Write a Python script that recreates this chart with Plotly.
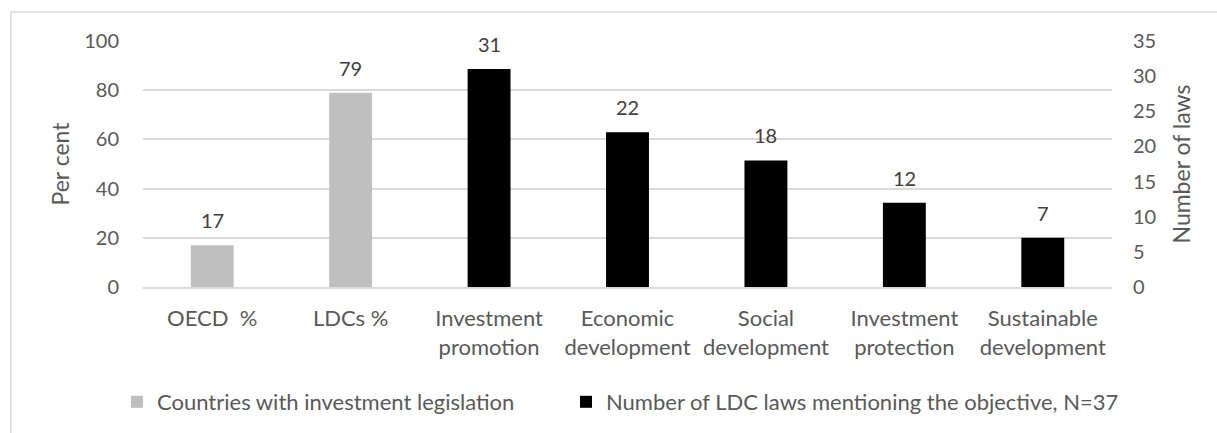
import plotly.graph_objects as go

categories = ["OECD\u00a0 %", "LDCs %", "Investment promotion", "Economic development",
              "Social development", "Investment protection", "Sustainable development"]
tick_labels = ["OECD\u00a0 %", "LDCs %", "Investment<br>promotion", "Economic<br>development",
               "Social<br>development", "Investment<br>protection", "Sustainable<br>development"]

pct_categories = categories[:2]
pct_values = [17, 79]
law_categories = categories[2:]
law_values = [31, 22, 18, 12, 7]

series1_name = "Countries with investment legislation"
series2_name = "Number of LDC laws mentioning the objective, N=37"

FONT = "Lato, Carlito, Calibri, sans-serif"
TXT = "#595959"
LBL = "#404040"
GRID = "#D9D9D9"

W, H = 1217, 433
L, R, T, B = 143, 1112, 41, 288
pw, ph = R - L, B - T

def px_x(x):
    return (x - L) / pw

def px_y(y):
    return (B - y) / ph

fig = go.Figure()
fig.add_trace(go.Bar(x=pct_categories, y=pct_values, name=series1_name,
                     marker=dict(color="#BFBFBF", line=dict(width=0)),
                     width=0.31, yaxis="y", legendwidth=404))
fig.add_trace(go.Bar(x=law_categories, y=law_values, name=series2_name,
                     marker=dict(color="#000000", line=dict(width=0)),
                     width=0.31, yaxis="y2", legendwidth=540))

annotations = []
for c, v in zip(pct_categories, pct_values):
    annotations.append(dict(x=c, y=v, xref="x", yref="y", text=str(v), showarrow=False,
                            yanchor="middle", yshift=25, font=dict(family=FONT, size=20, color=LBL)))
for c, v in zip(law_categories, law_values):
    annotations.append(dict(x=c, y=v, xref="x", yref="y2", text=str(v), showarrow=False,
                            yanchor="middle", yshift=25, font=dict(family=FONT, size=20, color=LBL)))

fig.update_layout(
    width=W, height=H,
    margin=dict(l=L, r=W - R, t=T, b=H - B, pad=0),
    paper_bgcolor="white", plot_bgcolor="white",
    font=dict(family=FONT, size=20, color=TXT),
    barmode="overlay",
    annotations=annotations,
    xaxis=dict(categoryorder="array", categoryarray=categories,
               tickvals=categories, ticktext=tick_labels,
               showgrid=False, showline=True, linecolor=GRID, linewidth=1.5,
               ticks="", ticklabelstandoff=11, tickangle=0,
               tickfont=dict(family=FONT, size=22, color=TXT)),
    yaxis=dict(range=[0, 100], tickvals=[0, 20, 40, 60, 80, 100],
               showgrid=True, gridcolor=GRID, gridwidth=1.5,
               zeroline=False, showline=False, ticks="", ticklabelstandoff=23,
               tickfont=dict(family=FONT, size=20, color=TXT),
               title=dict(text="Per cent", standoff=8,
                          font=dict(family=FONT, size=23, color=TXT))),
    yaxis2=dict(range=[0, 35], tickvals=[0, 5, 10, 15, 20, 25, 30, 35],
                overlaying="y", side="right", showgrid=False, zeroline=False,
                showline=False, ticks="", ticklabelstandoff=20,
                tickfont=dict(family=FONT, size=20, color=TXT),
                title=dict(text="Number of laws", standoff=18,
                           font=dict(family=FONT, size=23, color=TXT))),
    showlegend=True,
    legend=dict(orientation="h", x=px_x(117), xanchor="left", y=px_y(402), yanchor="middle",
                font=dict(family=FONT, size=22, color=TXT), bgcolor="rgba(0,0,0,0)"),
    shapes=[dict(type="rect", xref="paper", yref="paper",
                 x0=px_x(11), x1=px_x(1230), y0=px_y(450), y1=px_y(12),
                 line=dict(color=GRID, width=1.5), fillcolor="rgba(0,0,0,0)", layer="below")],
)

fig.write_html("out.html", config={"displayModeBar": False},
               post_script="document.body.style.margin='0';")
